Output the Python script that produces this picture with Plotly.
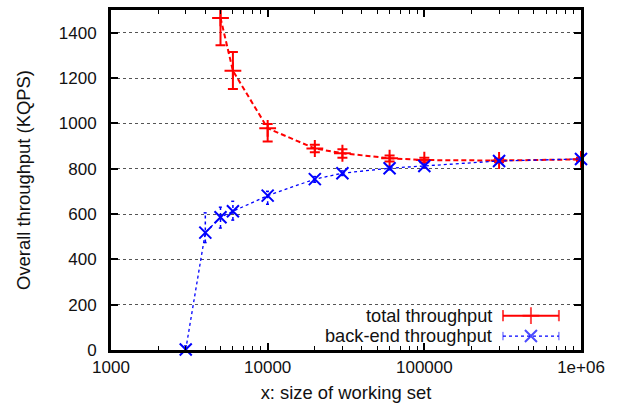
import plotly.graph_objects as go

# ---- data ----
total_x = [5000, 6000, 10000, 20000, 30000, 60000, 100000, 300000, 1000000]
total_y = [1465, 1232, 978, 889, 868, 846, 838, 836, 841]
total_hi = [1590, 1315, 997, 905, 886, 858, 848, 845, 848]
total_lo = [1344, 1152, 920, 872, 848, 832, 828, 828, 834]

back_x = [3000, 4000, 5000, 6000, 10000, 20000, 30000, 60000, 100000, 300000, 1000000]
back_y = [2, 518, 586, 612, 681, 754, 780, 802, 812, 834, 843]
back_hi = [18, 605, 630, 656, 700, 765, 790, 810, 820, 840, 848]
back_lo = [0, 474, 538, 573, 643, 740, 770, 795, 805, 828, 838]

x_ticks = [1000, 10000, 100000, 1000000]
x_ticklabels = ["1000", "10000", "100000", "1e+06"]
y_ticks = [0, 200, 400, 600, 800, 1000, 1200, 1400]

RED = "#ff0000"
BLUE = "#0000ff"
FONT = "Liberation Sans, Arial, Helvetica, sans-serif"

fig = go.Figure()

# red: total throughput with error bars
fig.add_trace(go.Scatter(
    x=total_x, y=total_y, mode="lines+markers",
    line=dict(color=RED, width=2, dash="5px,3px"),
    marker=dict(symbol="cross-thin", size=12, line=dict(color=RED, width=2), color=RED),
    error_y=dict(type="data", symmetric=False,
                 array=[h - v for h, v in zip(total_hi, total_y)],
                 arrayminus=[v - l for v, l in zip(total_y, total_lo)],
                 color=RED, thickness=2, width=5),
    showlegend=False,
))

# blue dotted error bars (drawn as dotted segments)
ex, ey = [], []
cx, cy = [], []
for xv, lo, hi in zip(back_x, back_lo, back_hi):
    ex += [xv, xv, None]
    ey += [lo, hi, None]
    for yy in (lo, hi):
        cx += [xv / 1.025, xv * 1.025, None]
        cy += [yy, yy, None]
fig.add_trace(go.Scatter(x=ex, y=ey, mode="lines",
                         line=dict(color=BLUE, width=1.5, dash="dot"),
                         showlegend=False, hoverinfo="skip"))
fig.add_trace(go.Scatter(x=cx, y=cy, mode="lines",
                         line=dict(color=BLUE, width=1.5, dash="dot"),
                         showlegend=False, hoverinfo="skip"))

# blue: back-end throughput
fig.add_trace(go.Scatter(
    x=back_x, y=back_y, mode="lines+markers",
    line=dict(color=BLUE, width=1.3, dash="dot"),
    marker=dict(symbol="x-thin", size=12, line=dict(color=BLUE, width=2), color=BLUE),
    cliponaxis=False, showlegend=False,
))

# ---- manual legend (gnuplot style: text then sample) ----
lx0, lx1, lxm = 0.834, 0.953, 0.8935
ly_red, ly_blue = 0.101, 0.041
fig.add_trace(go.Scatter(x=[lx0, lx1], y=[ly_red, ly_red], xaxis="x2", yaxis="y2",
                         mode="lines", line=dict(color=RED, width=2),
                         showlegend=False, hoverinfo="skip"))
fig.add_trace(go.Scatter(x=[lx0, lxm, lx1], y=[ly_red] * 3, xaxis="x2", yaxis="y2",
                         mode="markers",
                         marker=dict(symbol=["line-ns", "cross-thin", "line-ns"], size=[8, 12, 8],
                                     line=dict(color=RED, width=2)),
                         showlegend=False, hoverinfo="skip"))
fig.add_trace(go.Scatter(x=[lx0, lx1], y=[ly_blue, ly_blue], xaxis="x2", yaxis="y2",
                         mode="lines", line=dict(color=BLUE, width=1.3, dash="dot"),
                         showlegend=False, hoverinfo="skip"))
fig.add_trace(go.Scatter(x=[lx0, lxm, lx1], y=[ly_blue] * 3, xaxis="x2", yaxis="y2",
                         mode="markers",
                         marker=dict(symbol=["line-ns", "x-thin", "line-ns"], size=[6, 12, 6],
                                     line=dict(color=BLUE, width=[1, 2, 1])),
                         showlegend=False, hoverinfo="skip"))

fig.add_annotation(x=0.812, y=ly_red, xref="x2", yref="y2", text="total throughput",
                   showarrow=False, xanchor="right", yanchor="middle", borderpad=0,
                   font=dict(size=18.2, color="#111111", family=FONT))
fig.add_annotation(x=0.812, y=ly_blue, xref="x2", yref="y2", text="back-end throughput",
                   showarrow=False, xanchor="right", yanchor="middle", borderpad=0,
                   font=dict(size=18.2, color="#111111", family=FONT))

fig.update_layout(
    width=623, height=409,
    margin=dict(l=111, r=42, t=7, b=59),
    paper_bgcolor="white", plot_bgcolor="white",
    font=dict(family=FONT, size=17, color="#111111"),
    xaxis=dict(
        type="log", range=[3, 6],
        tickvals=x_ticks, ticktext=x_ticklabels,
        tickfont=dict(size=17),
        ticks="inside", ticklen=7, tickwidth=1.5, tickcolor="black",
        minor=dict(ticks="inside", ticklen=4, tickwidth=1, tickcolor="black", showgrid=False,
                   tickvals=[2000, 3000, 4000, 5000, 6000, 7000, 8000, 9000,
                             20000, 30000, 40000, 50000, 60000, 70000, 80000, 90000,
                             200000, 300000, 400000, 500000, 600000, 700000, 800000, 900000]),
        showgrid=False, zeroline=False,
        showline=True, linecolor="black", linewidth=3, mirror="allticks",
        title=dict(text="x: size of working set", standoff=10, font=dict(size=18.4)),
    ),
    yaxis=dict(
        range=[0, 1500],
        tickvals=y_ticks,
        tickfont=dict(size=17),
        ticks="inside", ticklen=7, tickwidth=1.5, tickcolor="black",
        showgrid=True, gridcolor="#555555", griddash="dot", gridwidth=1,
        zeroline=False,
        showline=True, linecolor="black", linewidth=3, mirror="allticks",
        ticklabelstandoff=8,
        title=dict(text="Overall throughput (KQPS)", standoff=24, font=dict(size=18.4)),
    ),
    xaxis2=dict(overlaying="x", range=[0, 1], visible=False, fixedrange=True),
    yaxis2=dict(overlaying="y", range=[0, 1], visible=False, fixedrange=True),
)

fig.write_html("out.html")
